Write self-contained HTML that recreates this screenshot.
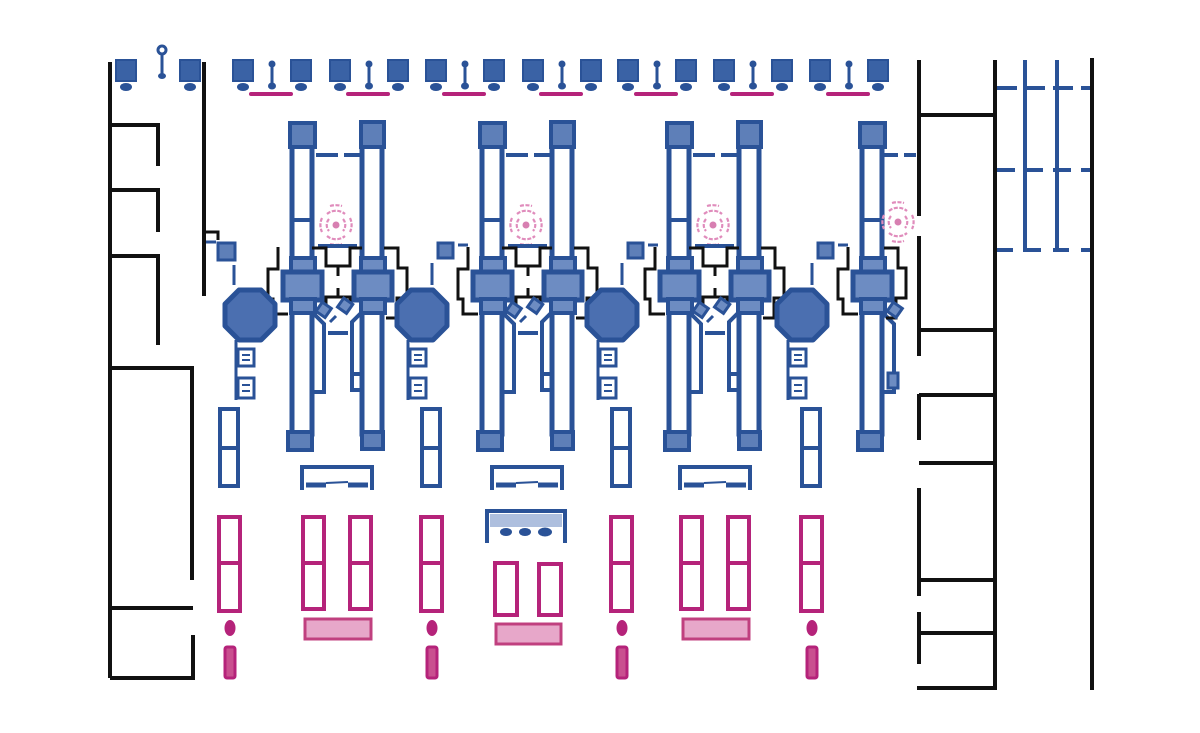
<!DOCTYPE html>
<html><head><meta charset="utf-8"><style>html,body{margin:0;padding:0;background:#fff}svg{display:block}</style></head>
<body>
<svg width="1200" height="733" viewBox="0 0 1200 733" xmlns="http://www.w3.org/2000/svg" xmlns:xlink="http://www.w3.org/1999/xlink">
<defs>
<g id="icon">
 <rect x="-10" y="60" width="20" height="21" fill="#3a62a5" stroke="#2a5297" stroke-width="2"/>
 <ellipse cx="0" cy="87" rx="6" ry="4" fill="#2a5297"/>
</g>
<g id="pin">
 <circle cx="0" cy="64" r="3.5" fill="#2a5297"/>
 <line x1="0" y1="64" x2="0" y2="86" stroke="#2a5297" stroke-width="3"/>
 <ellipse cx="0" cy="86" rx="4" ry="3.5" fill="#2a5297"/>
</g>
<g id="grp">
 <use xlink:href="#icon" x="0"/>
 <use xlink:href="#pin" x="29"/>
 <use xlink:href="#icon" x="58"/>
 <line x1="8" y1="94" x2="48" y2="94" stroke="#b5237a" stroke-width="4" stroke-linecap="round"/>
</g>
<g id="target" fill="none" stroke="#e08cbc" stroke-width="2.2" stroke-dasharray="4 1.5">
 <circle cx="0" cy="0" r="3.5" fill="#d77fb1" stroke="none"/>
 <path d="M-9,-11 A14,14 0 0 1 9,-11"/>
 <path d="M-9,11 A14,14 0 0 0 9,11"/>
 <path d="M-14,-7 A16,16 0 0 0 -14,7"/>
 <path d="M14,-7 A16,16 0 0 1 14,7"/>
 <path d="M-7,-6 A9,9 0 0 0 -7,6"/><path d="M7,-6 A9,9 0 0 1 7,6"/>
 <path d="M-6,-19 A22,22 0 0 1 6,-19"/><path d="M-6,19 A22,22 0 0 0 6,19"/>
</g>
<g id="leg">
 <rect x="292" y="146" width="20" height="288" fill="none" stroke="#2a5297" stroke-width="5"/>
 <line x1="292" y1="220" x2="312" y2="220" stroke="#2a5297" stroke-width="4"/>
 <rect x="290" y="123" width="25" height="24" fill="#5e7fb8" stroke="#2a5297" stroke-width="4"/>
 <rect x="288" y="432" width="24" height="18" fill="#5e7fb8" stroke="#2a5297" stroke-width="4"/>
 <rect x="291" y="258" width="24" height="15" fill="#6d8cc2" stroke="#2a5297" stroke-width="4"/>
 <rect x="283" y="272" width="39" height="28" fill="#6d8cc2" stroke="#2a5297" stroke-width="5"/>
 <rect x="291" y="299" width="24" height="14" fill="#6d8cc2" stroke="#2a5297" stroke-width="4"/>
 <path d="M312,312 L324,324 L324,392 L312,392" fill="none" stroke="#2a5297" stroke-width="4"/>
</g>
<g id="legR">
 <rect x="362" y="146" width="20" height="288" fill="none" stroke="#2a5297" stroke-width="5"/>
 <rect x="361" y="122" width="23" height="25" fill="#5e7fb8" stroke="#2a5297" stroke-width="4"/>
 <rect x="362" y="432" width="21" height="17" fill="#5e7fb8" stroke="#2a5297" stroke-width="4"/>
 <rect x="361" y="258" width="24" height="15" fill="#6d8cc2" stroke="#2a5297" stroke-width="4"/>
 <rect x="354" y="272" width="38" height="28" fill="#6d8cc2" stroke="#2a5297" stroke-width="5"/>
 <rect x="361" y="299" width="24" height="14" fill="#6d8cc2" stroke="#2a5297" stroke-width="4"/>
 <path d="M362,312 L352,322 L352,390 L362,390" fill="none" stroke="#2a5297" stroke-width="4"/>
 <line x1="352" y1="374" x2="362" y2="374" stroke="#2a5297" stroke-width="4"/>
 <path d="M384,248 L398,248 L398,268 L407,268 L407,298 L397,298 L397,318 L386,318" fill="none" stroke="#111" stroke-width="3"/>
</g>
<g id="mid">
 <line x1="316" y1="155" x2="338" y2="155" stroke="#2a5297" stroke-width="4"/>
 <line x1="344" y1="155" x2="360" y2="155" stroke="#2a5297" stroke-width="4"/>
 <use xlink:href="#target" x="336" y="225"/>
 <line x1="318" y1="246" x2="357" y2="246" stroke="#2a5297" stroke-width="4"/>
 <path d="M278,247 L278,269 L268,269 L268,299 L273,299 L273,314 L288,314" fill="none" stroke="#111" stroke-width="3"/>
 <path d="M312,248 L326,248 L326,266 L350,266 L350,248 L362,248" fill="none" stroke="#111" stroke-width="3"/>
 <line x1="338" y1="266" x2="338" y2="276" stroke="#111" stroke-width="3"/>
 <path d="M326,304 L326,297 L350,297 L350,304" fill="none" stroke="#111" stroke-width="3"/>
 <line x1="338" y1="288" x2="338" y2="297" stroke="#111" stroke-width="3"/>
 <rect x="318" y="304" width="11" height="11" fill="#6d8cc2" stroke="#2a5297" stroke-width="3" transform="rotate(35 323 310)"/>
 <rect x="340" y="300" width="11" height="11" fill="#6d8cc2" stroke="#2a5297" stroke-width="3" transform="rotate(35 345 305)"/>
 <line x1="330" y1="322" x2="336" y2="316" stroke="#2a5297" stroke-width="3"/>
 <line x1="328" y1="333" x2="348" y2="333" stroke="#2a5297" stroke-width="4"/>
</g>
<g id="octb">
 <polygon points="-11,-25 11,-25 25,-11 25,11 11,25 -11,25 -25,11 -25,-11" fill="#4b6fb0" stroke="#2a5297" stroke-width="5" stroke-linejoin="round"/>
 <line x1="-14" y1="25" x2="-14" y2="85" stroke="#2a5297" stroke-width="3"/>
 <rect x="-12" y="34" width="16" height="17" fill="none" stroke="#2a5297" stroke-width="3"/>
 <line x1="-8" y1="40" x2="0" y2="40" stroke="#2a5297" stroke-width="2"/><line x1="-8" y1="45" x2="0" y2="45" stroke="#2a5297" stroke-width="2"/>
 <rect x="-12" y="63" width="16" height="20" fill="none" stroke="#2a5297" stroke-width="3"/>
 <line x1="-8" y1="70" x2="0" y2="70" stroke="#2a5297" stroke-width="2"/><line x1="-8" y1="76" x2="0" y2="76" stroke="#2a5297" stroke-width="2"/>
</g>
<g id="sqL">
 <rect x="-32" y="-72" width="17" height="17" fill="#5e7fb8" stroke="#2a5297" stroke-width="3"/>
 <line x1="-16" y1="-50" x2="-16" y2="-30" stroke="#2a5297" stroke-width="3"/>
</g>
<g id="sqR">
 <rect x="16" y="-72" width="15" height="15" fill="#5e7fb8" stroke="#2a5297" stroke-width="3"/>
 <line x1="36" y1="-70" x2="46" y2="-70" stroke="#2a5297" stroke-width="3"/>
 <line x1="10" y1="-52" x2="10" y2="-30" stroke="#2a5297" stroke-width="3"/>
</g>
<g id="brow">
 <rect x="0" y="409" width="18" height="77" fill="none" stroke="#2a5297" stroke-width="4"/>
 <line x1="0" y1="448" x2="18" y2="448" stroke="#2a5297" stroke-width="4"/>
 <rect x="-1" y="517" width="21" height="94" fill="none" stroke="#b5237a" stroke-width="4"/>
 <line x1="-1" y1="563" x2="20" y2="563" stroke="#b5237a" stroke-width="4"/>
 <ellipse cx="10" cy="628" rx="5.5" ry="8" fill="#b5237a"/>
 <rect x="5" y="647" width="10" height="31" rx="2" fill="#c9508f" stroke="#b5237a" stroke-width="3"/>
</g>
<g id="bracket">
 <path d="M302,490 L302,467 L372,467 L372,490" fill="none" stroke="#2a5297" stroke-width="4"/>
 <line x1="306" y1="485" x2="326" y2="485" stroke="#2a5297" stroke-width="5"/>
 <line x1="348" y1="485" x2="368" y2="485" stroke="#2a5297" stroke-width="5"/>
 <line x1="326" y1="483" x2="348" y2="482" stroke="#2a5297" stroke-width="2"/>
</g>
<g id="mpair">
 <rect x="303" y="517" width="21" height="92" fill="none" stroke="#b5237a" stroke-width="4"/>
 <line x1="303" y1="563" x2="324" y2="563" stroke="#b5237a" stroke-width="4"/>
 <rect x="350" y="517" width="21" height="92" fill="none" stroke="#b5237a" stroke-width="4"/>
 <line x1="350" y1="563" x2="371" y2="563" stroke="#b5237a" stroke-width="4"/>
 <rect x="305" y="619" width="66" height="20" fill="#e7a7c9" stroke="#c0407f" stroke-width="3"/>
</g>
</defs>

<!-- top icons -->
<use xlink:href="#icon" x="126"/><use xlink:href="#icon" x="190"/>
<circle cx="162" cy="50" r="4" fill="none" stroke="#2a5297" stroke-width="3"/>
<line x1="162" y1="54" x2="162" y2="74" stroke="#2a5297" stroke-width="3"/><ellipse cx="162" cy="76" rx="4" ry="3" fill="#2a5297"/>
<use xlink:href="#grp" x="243"/><use xlink:href="#grp" x="340"/><use xlink:href="#grp" x="436"/><use xlink:href="#grp" x="533"/><use xlink:href="#grp" x="628"/><use xlink:href="#grp" x="724"/><use xlink:href="#grp" x="820"/>

<!-- left black structure -->
<g fill="none" stroke="#111" stroke-width="4">
 <line x1="110" y1="62" x2="110" y2="678"/>
 <line x1="204" y1="62" x2="204" y2="296"/>
 <path d="M110,125 L158,125 L158,166"/>
 <path d="M110,190 L158,190 L158,232"/>
 <path d="M110,256 L158,256 L158,345"/>
 <path d="M110,368 L192,368 L192,580"/>
 <path d="M110,608 L193,608"/>
 <path d="M193,635 L193,678 L110,678"/>
 <path d="M204,232 L218,232 L218,240" stroke-width="3"/>
</g>
<line x1="206" y1="242" x2="216" y2="242" stroke="#2a5297" stroke-width="3"/>

<!-- right black structure -->
<g fill="none" stroke="#111" stroke-width="4">
 <line x1="919" y1="60" x2="919" y2="216"/>
 <line x1="919" y1="236" x2="919" y2="356"/>
 <line x1="919" y1="394" x2="919" y2="440"/>
 <line x1="919" y1="488" x2="919" y2="596"/>
 <line x1="919" y1="612" x2="919" y2="664"/>
 <line x1="995" y1="60" x2="995" y2="690"/>
 <line x1="1092" y1="58" x2="1092" y2="690"/>
 <line x1="919" y1="115" x2="995" y2="115"/>
 <line x1="919" y1="330" x2="995" y2="330"/>
 <line x1="919" y1="395" x2="995" y2="395"/>
 <line x1="919" y1="463" x2="995" y2="463"/>
 <line x1="919" y1="580" x2="995" y2="580"/>
 <line x1="919" y1="633" x2="995" y2="633"/>
 <line x1="917" y1="688" x2="995" y2="688"/>
</g>
<g stroke="#2a5297" stroke-width="4" fill="none">
 <line x1="1025" y1="60" x2="1025" y2="252"/>
 <line x1="1057" y1="60" x2="1057" y2="252"/>
 <line x1="997" y1="88" x2="1090" y2="88" stroke-dasharray="20 8"/>
 <line x1="997" y1="170" x2="1090" y2="170" stroke-dasharray="18 10"/>
 <line x1="997" y1="250" x2="1090" y2="250" stroke-dasharray="16 12"/>
 <line x1="884" y1="155" x2="916" y2="155" stroke-dasharray="14 6"/>
</g>

<!-- units -->
<use xlink:href="#leg"/><use xlink:href="#legR"/><use xlink:href="#mid"/>
<g transform="translate(190,0)"><use xlink:href="#leg"/><use xlink:href="#legR"/><use xlink:href="#mid"/></g>
<g transform="translate(377,0)"><use xlink:href="#leg"/><use xlink:href="#legR"/><use xlink:href="#mid"/></g>
<g transform="translate(570,0)"><use xlink:href="#leg"/>
 <path d="M278,247 L278,269 L268,269 L268,299 L273,299 L273,314 L288,314" fill="none" stroke="#111" stroke-width="3"/>
 <path d="M314,248 L328,248 L328,268 L336,268 L336,298 L326,298 L326,318 L316,318" fill="none" stroke="#111" stroke-width="3"/>
 <use xlink:href="#target" x="328" y="222"/>
 <rect x="319" y="304" width="11" height="11" fill="#6d8cc2" stroke="#2a5297" stroke-width="3" transform="rotate(35 324 310)"/>
 <rect x="318" y="373" width="10" height="15" fill="#6d8cc2" stroke="#2a5297" stroke-width="3"/>
</g>

<use xlink:href="#octb" x="250" y="315"/><use xlink:href="#sqL" x="250" y="315"/>
<use xlink:href="#octb" x="422" y="315"/><use xlink:href="#sqR" x="422" y="315"/>
<use xlink:href="#octb" x="612" y="315"/><use xlink:href="#sqR" x="612" y="315"/>
<use xlink:href="#octb" x="802" y="315"/><use xlink:href="#sqR" x="802" y="315"/>

<use xlink:href="#brow" x="220"/>
<use xlink:href="#brow" x="422"/>
<use xlink:href="#brow" x="612"/>
<use xlink:href="#brow" x="802"/>

<use xlink:href="#bracket"/><use xlink:href="#mpair"/>
<use xlink:href="#bracket" x="190"/>
<use xlink:href="#bracket" x="378"/><use xlink:href="#mpair" x="378"/>

<!-- unit2 special bottom -->
<path d="M487,543 L487,511 L565,511 L565,543" fill="none" stroke="#2a5297" stroke-width="4"/>
<rect x="490" y="514" width="72" height="13" fill="#aebfde"/>
<ellipse cx="506" cy="532" rx="6" ry="4" fill="#2a5297"/>
<ellipse cx="525" cy="532" rx="6" ry="4" fill="#2a5297"/>
<ellipse cx="545" cy="532" rx="7" ry="4.5" fill="#2a5297"/>
<rect x="495" y="563" width="22" height="52" fill="none" stroke="#b5237a" stroke-width="4"/>
<rect x="539" y="564" width="22" height="51" fill="none" stroke="#b5237a" stroke-width="4"/>
<rect x="496" y="624" width="65" height="20" fill="#e7a7c9" stroke="#c0407f" stroke-width="3"/>
</svg>
</body></html>
